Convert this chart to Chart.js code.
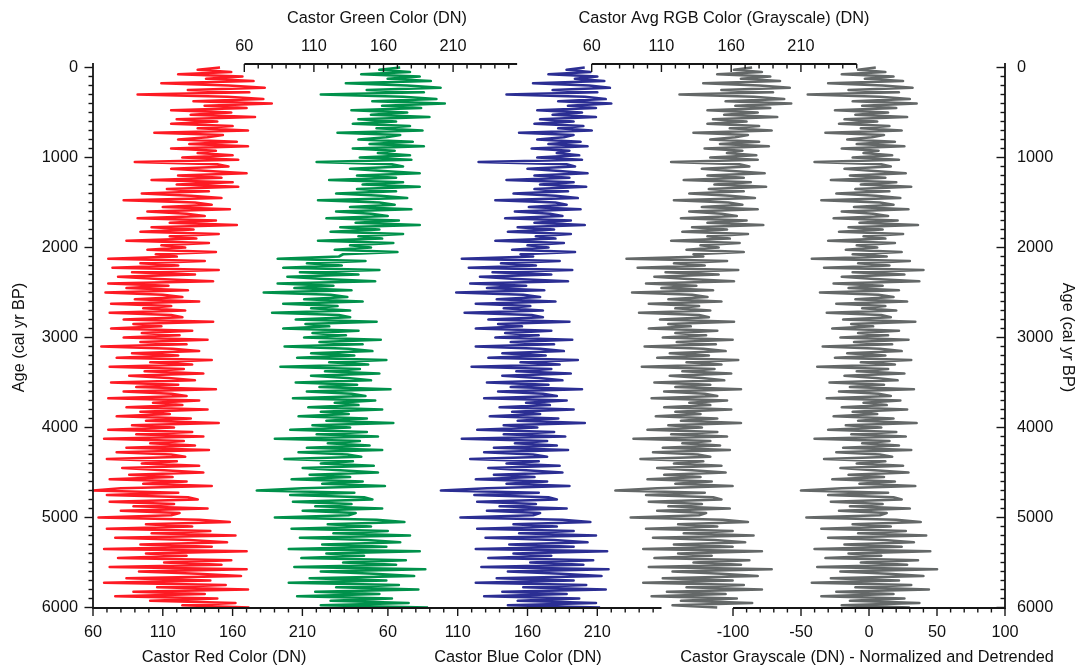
<!DOCTYPE html>
<html>
<head>
<meta charset="utf-8">
<script src="https://cdn.jsdelivr.net/npm/chart.js@4/dist/chart.umd.min.js"></script>
<style>
html,body{margin:0;padding:0;background:#ffffff;overflow:hidden;}
#chart{display:block;}
</style>
</head>
<body>
<canvas id="chart" width="1084" height="665"></canvas>
<script>
// ---------------- DATA ----------------
const ages = [
0,25,50,75,100,125,150,175,200,225,250,275,300,325,350,375,400,425,450,475,
500,525,550,575,600,625,650,675,700,725,750,775,800,825,850,875,900,925,950,975,
1000,1025,1050,1075,1100,1125,1150,1175,1200,1225,1250,1275,1300,1325,1350,1375,1400,1425,1450,1475,
1500,1525,1550,1575,1600,1625,1650,1675,1700,1725,1750,1775,1800,1825,1850,1875,1900,1925,1950,1975,
2000,2025,2050,2075,2100,2125,2150,2175,2200,2225,2250,2275,2300,2325,2350,2375,2400,2425,2450,2475,
2500,2525,2550,2575,2600,2625,2650,2675,2700,2725,2750,2775,2800,2825,2850,2875,2900,2925,2950,2975,
3000,3025,3050,3075,3100,3125,3150,3175,3200,3225,3250,3275,3300,3325,3350,3375,3400,3425,3450,3475,
3500,3525,3550,3575,3600,3625,3650,3675,3700,3725,3750,3775,3800,3825,3850,3875,3900,3925,3950,3975,
4000,4025,4050,4075,4100,4125,4150,4175,4200,4225,4250,4275,4300,4325,4350,4375,4400,4425,4450,4475,
4500,4525,4550,4575,4600,4625,4650,4675,4700,4725,4750,4775,4800,4825,4850,4875,4900,4925,4950,4975,
5000,5025,5050,5075,5100,5125,5150,5175,5200,5225,5250,5275,5300,5325,5350,5375,5400,5425,5450,5475,
5500,5525,5550,5575,5600,5625,5650,5675,5700,5725,5750,5775,5800,5825,5850,5875,5900,5925,5950,5975,
6000];

const redValues = [
151,135,159,121,167,141,175,109,157,183, 128,172,92,156,182,132,188,140,170,116,
159,130,176,120,149,116,160,135,171,104, 153,142,121,163,129,171,116,148,135,160,
124,164,90,149,157,116,143,170,121,152, 102,160,120,164,113,143,95,130,152,82,
133,145,110,158,99,127,140,92,148,115, 163,102,132,94,150,115,134,84,143,109,
126,99,148,105,120,71,140,94,121,74, 150,88,133,78,107,146,71,114,84,128,
69,110,124,90,136,73,116,96,126,72, 116,124,82,146,89,109,73,131,95,122,
82,142,94,127,66,117,136,88,121,77, 145,101,131,72,125,97,139,86,114,133,
73,121,91,148,82,116,127,71,136,103, 124,84,142,94,115,77,130,98,150,88,
118,71,131,91,139,68,125,101,133,84, 143,77,116,126,70,120,95,136,81,111,
139,86,117,72,127,96,145,80,60,121, 70,128,135,72,118,89,142,80,122,116,
64,136,158,98,131,70,144,102,162,76, 129,156,94,145,68,170,98,127,78,159,
111,152,72,170,93,135,166,84,144,68, 155,106,171,89,140,76,149,101,162,124,
172];

const greenValues = [
172,157,179,144,186,163,194,133,177,201, 148,189,115,174,198,152,204,159,187,137,
177,151,193,142,169,138,179,155,188,127, 172,162,142,181,150,189,138,168,156,179,
143,180,112,166,174,136,160,186,141,169, 121,174,145,186,141,169,126,158,177,113,
157,168,136,180,126,151,163,119,171,140, 186,129,157,122,174,142,159,113,167,136,
151,125,170,131,128,84,147,105,130,88, 157,100,142,91,117,154,84,124,96,137,
74,122,134,103,145,88,127,108,136,80, 128,136,97,155,104,121,88,142,109,133,
103,158,114,145,89,135,152,108,139,98, 162,121,149,86,143,118,157,108,134,151,
97,141,114,165,105,137,147,95,154,125, 142,106,159,115,135,99,148,119,167,109,
136,93,148,112,156,82,143,120,150,105, 159,99,134,144,89,138,115,153,102,129,
156,107,136,94,145,116,161,102,69,139, 93,146,152,95,137,111,159,102,140,135,
82,155,175,120,151,94,163,124,179,100, 148,172,116,162,92,186,119,146,101,176,
131,169,96,190,115,153,182,107,162,92, 171,126,185,111,157,98,166,122,178,115,
192];

const blueValues = [
201,188,205,175,210,194,215,164,204,219, 178,210,145,201,216,182,220,189,209,167,
199,178,209,169,193,165,200,182,206,154, 193,186,167,198,175,203,163,190,181,197,
167,199,125,188,194,160,183,203,165,190, 145,193,169,202,165,189,150,180,196,137,
180,188,161,198,151,176,185,144,191,165, 201,153,179,146,191,166,180,137,186,160,
175,149,194,155,164,113,183,141,166,118, 192,135,177,126,152,189,119,159,131,172,
109,157,169,138,180,123,162,143,171,115, 163,171,132,190,139,156,123,177,144,168,
137,192,148,179,123,169,186,142,173,132, 196,155,183,120,177,152,191,142,168,185,
131,175,148,199,139,171,181,129,188,159, 176,140,193,149,169,133,182,153,201,143,
167,124,179,143,187,113,174,151,181,136, 189,129,164,174,119,168,145,183,132,159,
185,136,165,123,174,145,190,131,98,168, 122,175,181,124,166,140,188,131,169,164,
112,185,205,150,181,124,193,154,209,130, 179,203,147,193,123,217,150,177,132,207,
162,200,127,218,146,184,213,138,193,123, 202,157,216,142,188,129,197,153,209,146,
212];

const grayValues = [
175,162,182,150,188,167,195,140,180,202, 153,190,123,176,198,156,203,163,188,143,
179,155,193,147,171,143,180,159,189,133, 172,163,145,180,152,187,141,168,157,178,
145,179,117,166,173,139,161,184,143,169, 126,174,148,185,144,169,130,159,177,119,
158,168,139,179,130,153,164,124,171,143, 183,132,157,125,172,143,159,117,166,138,
151,128,169,133,140,85,157,119,141,93, 165,113,151,105,129,162,99,135,110,147,
89,132,143,115,153,101,137,120,145,94, 137,144,109,162,115,131,101,150,120,142,
111,161,121,149,98,140,156,116,144,107, 165,128,153,96,148,125,160,116,139,155,
105,145,120,167,112,141,150,103,157,130, 145,112,160,120,138,106,150,124,167,115,
139,100,150,117,157,90,145,125,152,111, 159,104,136,145,95,140,119,153,107,132,
156,112,138,100,146,120,161,107,77,141, 99,147,153,101,139,115,159,107,142,137,
88,154,172,122,150,99,161,126,176,104, 148,170,119,161,97,182,122,146,105,173,
133,167,101,189,118,153,179,111,161,97, 169,128,182,114,156,103,164,124,175,118,
150];

const detrendedValues = [
5,-8,12,-20,18,-3,25,-30,10,32, -15,22,-45,8,30,-12,35,-5,20,-25,
14,-10,28,-18,6,-22,15,-6,24,-32, 11,2,-16,19,-9,26,-20,7,-4,17,
-12,22,-40,9,16,-18,4,27,-14,12, -28,20,-6,31,-10,15,-24,5,23,-35,
8,18,-11,29,-20,3,14,-26,21,-7, 36,-15,10,-22,25,-4,12,-30,19,-9,
6,-17,24,-12,13,-42,30,-8,15,-33, 40,-12,26,-20,4,37,-26,10,-15,22,
-36,7,18,-10,28,-24,12,-5,20,-31, 9,16,-19,34,-13,3,-27,22,-8,14,
-21,29,-11,17,-34,8,24,-16,12,-25, 31,-6,19,-38,14,-9,26,-18,5,21,
-29,11,-14,33,-22,7,16,-31,23,-4, 13,-20,28,-12,6,-26,18,-8,35,-17,
9,-30,20,-13,27,-40,15,-5,22,-19, 31,-24,8,17,-33,12,-9,25,-21,4,
29,-15,11,-27,19,-7,34,-20,-50,14, -30,18,24,-28,10,-14,30,-22,13,8,
-46,20,38,-12,16,-35,27,-8,42,-30, 11,33,-18,24,-40,45,-15,9,-32,36,
-6,28,-38,50,-21,14,40,-28,22,-42, 31,-10,44,-24,18,-35,26,-14,37,-20,
30];

const redTickLabels = [60, 110, 160, 210];
const greenTickLabels = [60, 110, 160, 210];
const blueTickLabels = [60, 110, 160, 210];
const grayTickLabels = [60, 110, 160, 210];
const detrendedTickLabels = [-100, -50, 0, 50, 100];
const ageTickLabels = [0, 1000, 2000, 3000, 4000, 5000, 6000];

// ---------------- STYLE / LAYOUT ----------------
const FONT = { family: "'Liberation Sans', Arial, Helvetica, sans-serif", size: 16.3 };
const TEXT = '#111111';
const AXIS = '#161616';
const LEFT_W = 93, RIGHT_W = 79, TOP_H = 67.5, BOTTOM_H = 57.5;

const xAxisInfo = {
  xr: { cx: 224, from: 60, to: 260, labels: redTickLabels },
  xb: { cx: 518, from: 60, to: 250, labels: blueTickLabels },
  xd: { cx: 867, from: -100, to: 100, labels: detrendedTickLabels },
  xg: { cx: 377, from: 60, to: 250, labels: greenTickLabels },
  xa: { cx: 724, from: 60, to: 250, labels: grayTickLabels }
};

function xScale(id, position, min, max, title, fitH, tickPad, titlePad) {
  const info = xAxisInfo[id];
  return {
    type: 'linear', position, min, max,
    grid: { display: false, drawTicks: false, tickLength: 0 },
    border: { display: false },
    ticks: { autoSkip: false, maxRotation: 0, minRotation: 0, padding: tickPad,
             color: TEXT, font: FONT, callback: v => String(v) },
    afterBuildTicks: s => { s.ticks = info.labels.map(v => ({ value: v })); },
    afterFit: s => { s.height = fitH; },
    title: { display: true, text: title, color: TEXT, font: FONT, padding: titlePad }
  };
}

function yScale(position, fitW, tickPad, title, titlePad) {
  return {
    type: 'linear', position, min: 0, max: 6000, reverse: true,
    grid: { display: false, drawTicks: false, tickLength: 0 },
    border: { display: false },
    ticks: { autoSkip: false, padding: tickPad, color: TEXT, font: FONT, callback: v => String(v) },
    afterBuildTicks: s => { s.ticks = ageTickLabels.map(v => ({ value: v })); },
    afterFit: s => { s.width = fitW; },
    title: { display: true, text: title, color: TEXT, font: FONT, padding: titlePad }
  };
}

function series(label, values, xAxisID, color) {
  return {
    label, xAxisID, yAxisID: 'y',
    data: values.map((v, i) => ({ x: v, y: ages[i] })),
    showLine: true, stepped: false, tension: 0,
    borderColor: color, backgroundColor: color, borderWidth: 2.7,
    borderJoinStyle: 'round', borderCapStyle: 'butt',
    pointRadius: 0, pointHoverRadius: 0, fill: false, clip: false
  };
}

const axisPlugin = {
  id: 'axisMarks',
  afterLayout(chart) {
    const ca = chart.chartArea, S = chart.scales;
    Object.keys(xAxisInfo).forEach(id => {
      const s = S[id];
      if (s.options.position === 'bottom') { s.top = ca.bottom; s.bottom = chart.height + 2; }
      else { s.top = 0; s.bottom = ca.top; }
      s.left = xAxisInfo[id].cx - 330; s.right = xAxisInfo[id].cx + 330;
    });
  },
  afterDraw(chart) {
    const ctx = chart.ctx, S = chart.scales, ca = chart.chartArea;
    const topY = ca.top - 3.5, botY = ca.bottom + 0.5;
    ctx.save();
    ctx.strokeStyle = AXIS;
    ctx.lineCap = 'butt';
    const line = (x1, y1, x2, y2, w) => { ctx.lineWidth = w; ctx.beginPath(); ctx.moveTo(x1, y1); ctx.lineTo(x2, y2); ctx.stroke(); };
    line(ca.left, topY - 0.9, ca.left, botY + 0.9, 1.8);
    line(ca.right, topY - 0.9, ca.right, botY + 0.9, 1.8);
    line(S.xr.getPixelForValue(60), botY, S.xb.getPixelForValue(256), botY, 1.8);
    line(S.xd.getPixelForValue(-100), botY, S.xd.getPixelForValue(100), botY, 1.8);
    line(S.xg.getPixelForValue(60), topY, S.xg.getPixelForValue(256), topY, 1.8);
    line(S.xa.getPixelForValue(60), topY, S.xa.getPixelForValue(250), topY, 1.8);
    Object.keys(xAxisInfo).forEach(id => {
      const info = xAxisInfo[id], s = S[id];
      const y0 = s.options.position === 'bottom' ? botY : topY;
      for (let v = info.from; v <= info.to; v += 10) {
        const x = s.getPixelForValue(v);
        const len = info.labels.includes(v) ? 8 : 4.5;
        line(x, y0, x, y0 + len, 1.4);
      }
    });
    for (let v = 0; v <= 6000; v += 100) {
      const y = S.y.getPixelForValue(v);
      const len = v % 1000 === 0 ? 8.5 : 4.5;
      line(ca.left, y, ca.left - len, y, 1.4);
      line(ca.right, y, ca.right - len, y, 1.4);
    }
    ctx.restore();
  }
};

new Chart(document.getElementById('chart'), {
  type: 'scatter',
  data: {
    datasets: [
      series('Castor Red Color (DN)', redValues, 'xr', '#fd1a23'),
      series('Castor Green Color (DN)', greenValues, 'xg', '#00914b'),
      series('Castor Blue Color (DN)', blueValues, 'xb', '#2b2e93'),
      series('Castor Avg RGB Color (Grayscale) (DN)', grayValues, 'xa', '#646868'),
      series('Castor Grayscale (DN) - Normalized and Detrended', detrendedValues, 'xd', '#646868')
    ]
  },
  options: {
    responsive: false, devicePixelRatio: 1, animation: false, events: [],
    layout: { padding: 0, autoPadding: false },
    plugins: { legend: { display: false }, tooltip: { enabled: false } },
    scales: {
      y: yScale('left', LEFT_W, 15, 'Age (cal yr BP)', { top: 10, bottom: 0 }),
      y2: yScale('right', RIGHT_W, 12, 'Age (cal yr BP)', { top: 6.4, bottom: 0 }),
      xr: xScale('xr', 'bottom', 60, 713.3, 'Castor Red Color (DN)', BOTTOM_H, 15.3, { top: 0, bottom: 0 }),
      xb: xScale('xb', 'bottom', -151.25, 502.05, 'Castor Blue Color (DN)', 0, 15.3, { top: 0, bottom: 0 }),
      xd: xScale('xd', 'bottom', -570.6, 100, 'Castor Grayscale (DN) - Normalized and Detrended', 0, 15.3, { top: 0, bottom: 0 }),
      xg: xScale('xg', 'top', -48.7, 606.5, 'Castor Green Color (DN)', TOP_H, 11.7, { top: 8.4, bottom: 0 }),
      xa: xScale('xa', 'top', -297.5, 356.3, 'Castor Avg RGB Color (Grayscale) (DN)', 0, 11.7, { top: 8.4, bottom: 0 })
    }
  },
  plugins: [axisPlugin]
});
</script>
</body>
</html>
